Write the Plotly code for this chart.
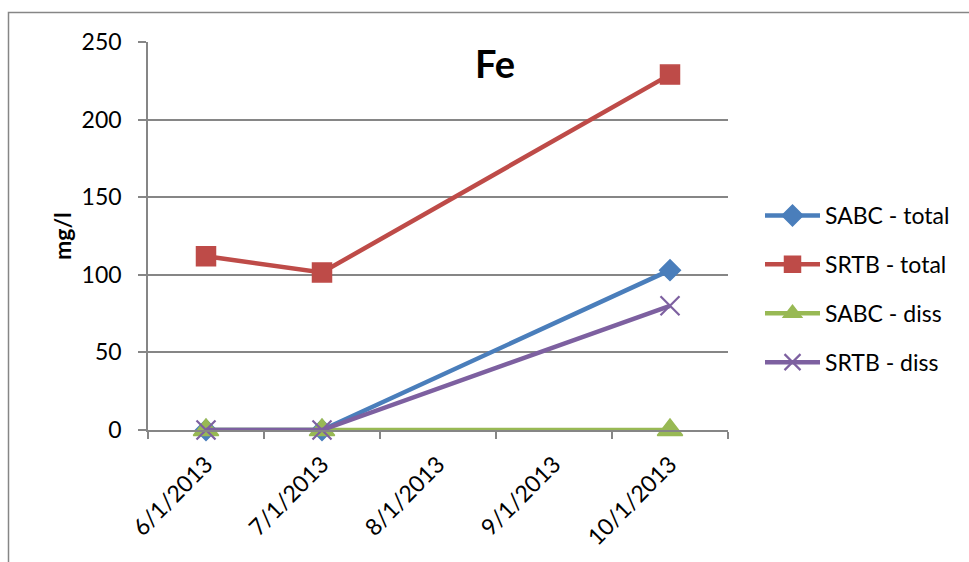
import plotly.graph_objects as go

# Sampling months (category axis, one slot per month)
months = ["6/1/2013", "7/1/2013", "8/1/2013", "9/1/2013", "10/1/2013"]
sample_dates = ["6/1/2013", "7/1/2013", "10/1/2013"]

# Iron concentrations, mg/l
sabc_total = [0, 0, 103]
srtb_total = [112, 101.5, 229]
sabc_diss = [0, 0, 0]
srtb_diss = [0, 0, 80]

y_ticks = [0, 50, 100, 150, 200, 250]

FONT = "Lato, Calibri, Carlito, sans-serif"
GRID = "#868686"

W, H = 969, 562
L, R, T, B = 148, 728, 42, 430  # plot area edges in pixels

series = [
    ("SABC - total", sabc_total, "#4A7EBB", "diamond", 16, 1.5),
    ("SRTB - total", srtb_total, "#BE4B48", "square", 19, 1.5),
    ("SABC - diss", sabc_diss, "#98B954", "triangle-up", 22, 1.5),
    ("SRTB - diss", srtb_diss, "#7D60A0", "x-thin", 19, 2.2),
]

fig = go.Figure()
for i, (name, vals, color, symbol, size, edge) in enumerate(series):
    fig.add_trace(go.Scatter(
        x=sample_dates, y=vals, name=name, mode="lines+markers",
        line=dict(color=color, width=4.5),
        marker=dict(symbol=symbol, size=size, color=color,
                    line=dict(color=color, width=edge)),
        legendgroup=f"g{i}",
        cliponaxis=False,
    ))

# Outer chart frame
def px_x(p):
    return (p - L) / (R - L)

def px_y(p):
    return (B - p) / (B - T)

fig.add_shape(type="rect", xref="paper", yref="paper",
              x0=px_x(8.5), x1=px_x(1200), y0=px_y(900), y1=px_y(12.5),
              line=dict(color="#868686", width=1.5), fillcolor="rgba(0,0,0,0)",
              layer="below")

fig.add_annotation(text="<b>Fe</b>", xref="paper", yref="paper",
                   x=px_x(495), y=px_y(63), xanchor="center", yanchor="middle",
                   showarrow=False,
                   font=dict(family=FONT, size=38, color="black"))

fig.add_annotation(text="<b>mg/l</b>", xref="paper", yref="paper",
                   x=px_x(62), y=px_y(236), xanchor="center", yanchor="middle",
                   showarrow=False, textangle=-90,
                   font=dict(family=FONT, size=23, color="black"))

fig.update_layout(
    width=W, height=H,
    margin=dict(l=L, r=W - R, t=T, b=H - B),
    paper_bgcolor="white", plot_bgcolor="white",
    font=dict(family=FONT, size=23, color="black"),
    showlegend=True,
    legend=dict(x=px_x(760), y=px_y(289), xanchor="left", yanchor="middle",
                font=dict(family=FONT, size=23, color="black"),
                traceorder="grouped", tracegroupgap=16, itemwidth=55,
                bgcolor="rgba(0,0,0,0)"),
    xaxis=dict(
        type="category", categoryorder="array", categoryarray=months,
        range=[-0.5, len(months) - 0.5],
        tickmode="array", tickvals=months, ticktext=months,
        tickson="boundaries", ticks="outside", ticklen=7, tickcolor=GRID,
        tickwidth=1.5, tickangle=-45, ticklabelstandoff=10,
        showgrid=False, showline=True, linecolor=GRID, linewidth=1.5,
        tickfont=dict(family=FONT, size=23),
        zeroline=False,
    ),
    yaxis=dict(
        range=[0, 250], tickmode="array", tickvals=y_ticks,
        ticks="outside", ticklen=8, tickcolor=GRID, tickwidth=1.5,
        ticklabelstandoff=12,
        showgrid=True, gridcolor=GRID, gridwidth=1.5,
        showline=True, linecolor=GRID, linewidth=1.5,
        zeroline=False,
        tickfont=dict(family=FONT, size=23),
    ),
)

fig.write_html("out.html")
